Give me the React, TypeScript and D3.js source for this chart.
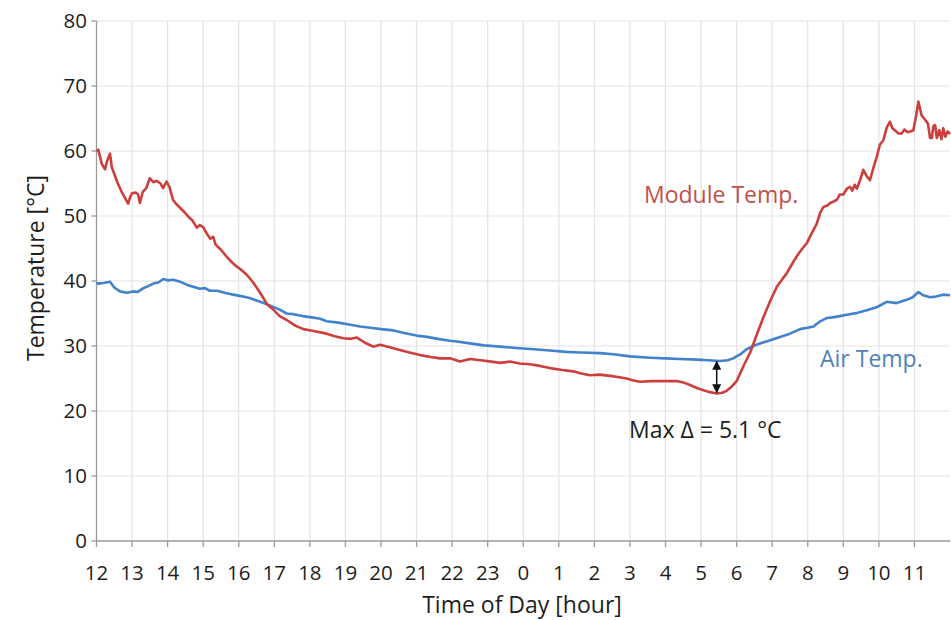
import React from "react";
import * as d3 from "d3";

// hours elapsed since 12:00 (0..24)
const hourLabels = ["12","13","14","15","16","17","18","19","20","21","22","23","0","1","2","3","4","5","6","7","8","9","10","11"];
const yTicks = [0, 10, 20, 30, 40, 50, 60, 70, 80];

const moduleT = [0.0,0.05,0.15,0.24,0.3,0.38,0.43,0.52,0.6,0.7,0.8,0.89,0.95,1.0,1.1,1.17,1.22,1.3,1.4,1.5,1.6,1.69,1.8,1.87,1.97,2.05,2.15,2.25,2.4,2.49,2.6,2.7,2.82,2.9,3.0,3.1,3.2,3.28,3.35,3.5,3.65,3.75,3.9,4.05,4.22,4.4,4.6,4.8,4.97,5.15,5.35,5.6,5.82,6.1,6.47,6.7,6.94,7.15,7.32,7.55,7.78,7.97,8.25,8.53,8.8,9.1,9.4,9.66,9.94,10.22,10.5,10.8,11.1,11.35,11.63,11.9,12.19,12.5,12.75,13.1,13.41,13.6,13.88,14.15,14.44,14.7,14.91,15.1,15.28,15.6,15.9,16.32,16.5,16.69,16.9,17.07,17.25,17.44,17.6,17.72,17.85,18.0,18.2,18.38,18.55,18.75,18.95,19.13,19.3,19.41,19.6,19.74,19.85,19.97,20.1,20.25,20.35,20.44,20.55,20.63,20.72,20.82,20.9,21.0,21.1,21.19,21.25,21.32,21.38,21.47,21.56,21.65,21.75,21.85,21.94,22.03,22.13,22.22,22.31,22.38,22.45,22.55,22.64,22.72,22.8,22.88,22.97,23.05,23.11,23.2,23.3,23.38,23.44,23.49,23.53,23.58,23.63,23.7,23.76,23.81,23.87,23.93,24.0];
const moduleV = [60.0,60.2,58.0,57.2,58.5,59.6,57.5,56.2,55.0,53.8,52.8,51.9,53.0,53.5,53.6,53.3,52.0,53.7,54.3,55.8,55.2,55.4,55.0,54.3,55.3,54.5,52.5,51.8,51.0,50.5,49.8,49.3,48.2,48.6,48.3,47.3,46.5,46.8,45.6,44.8,43.8,43.2,42.4,41.8,41.0,39.8,38.2,36.4,35.6,34.6,34.0,33.1,32.6,32.3,31.9,31.5,31.2,31.1,31.3,30.5,29.9,30.2,29.8,29.4,29.0,28.6,28.3,28.1,28.1,27.6,28.0,27.8,27.6,27.4,27.6,27.3,27.2,26.9,26.6,26.3,26.1,25.8,25.5,25.6,25.4,25.2,25.0,24.7,24.5,24.6,24.6,24.6,24.4,24.0,23.5,23.2,22.9,22.7,22.8,23.1,23.7,24.6,27.0,29.0,31.5,34.4,37.0,39.1,40.4,41.2,43.0,44.2,45.0,45.8,47.2,48.8,50.5,51.4,51.6,52.0,52.2,52.5,53.3,53.3,54.2,54.5,53.9,54.8,54.2,55.5,57.1,56.2,55.5,57.5,59.1,61.0,61.7,63.6,64.5,63.5,63.2,62.7,62.7,63.3,62.9,63.0,63.2,65.5,67.6,65.5,64.8,64.2,62.0,62.0,63.8,64.0,62.0,63.2,61.8,63.5,62.2,63.0,62.6];

const airT = [0.0,0.05,0.2,0.38,0.5,0.66,0.85,1.03,1.15,1.32,1.45,1.6,1.75,1.88,2.0,2.16,2.35,2.55,2.72,2.9,3.05,3.19,3.4,3.6,3.85,4.13,4.35,4.6,4.8,4.97,5.15,5.35,5.53,5.8,6.05,6.29,6.47,6.8,7.1,7.41,7.7,8.0,8.35,8.65,9.0,9.29,9.6,9.94,10.13,10.5,10.9,11.35,11.8,12.3,12.75,13.2,13.6,14.16,14.6,15.0,15.57,16.0,16.4,16.9,17.2,17.53,17.75,17.9,18.1,18.28,18.47,18.66,18.9,19.22,19.5,19.78,20.0,20.16,20.35,20.53,20.7,20.9,21.1,21.4,21.66,21.95,22.22,22.5,22.78,22.95,23.11,23.25,23.44,23.6,23.81,24.0];
const airV = [39.7,39.6,39.7,39.9,39.0,38.4,38.2,38.4,38.3,38.9,39.2,39.6,39.8,40.3,40.1,40.2,39.9,39.4,39.1,38.8,38.9,38.5,38.5,38.2,37.9,37.6,37.3,36.8,36.4,36.0,35.6,35.0,34.9,34.6,34.4,34.2,33.8,33.6,33.3,33.0,32.8,32.6,32.4,32.0,31.6,31.4,31.1,30.8,30.7,30.4,30.1,29.9,29.7,29.5,29.3,29.1,29.0,28.9,28.7,28.4,28.2,28.1,28.0,27.9,27.8,27.7,27.8,28.1,28.7,29.5,30.0,30.4,30.8,31.4,31.9,32.6,32.8,33.0,33.8,34.3,34.4,34.6,34.8,35.1,35.5,36.0,36.8,36.6,37.1,37.5,38.3,37.8,37.5,37.6,37.9,37.8];

// max delta annotation (hour, air value, module value)
const deltaAt = [17.44, 27.75, 22.7];

const RED = "#cc3f3c";
const BLUE = "#4282cc";
const FONT = "'Open Sans', 'DejaVu Sans', sans-serif";

export default function App() {
  const W = 951, H = 620;
  const x = d3.scaleLinear().domain([0, 24]).range([96.5, 950]);
  const y = d3.scaleLinear().domain([0, 80]).range([541, 21]);
  const line = d3.line<[number, number]>().x(d => x(d[0])).y(d => y(d[1]));
  const modPts = moduleT.map((t, i) => [t, moduleV[i]] as [number, number]);
  const airPts = airT.map((t, i) => [t, airV[i]] as [number, number]);
  const hours = d3.range(0, 24);
  const [dx, dTop, dBot] = deltaAt;

  return (
    <svg width={W} height={H} style={{ position: "absolute", left: 0, top: 0, background: "#fff" }} fontFamily={FONT}>
      <defs>
        <marker id="ah" viewBox="0 0 10 10" refX="9" refY="5" markerWidth="6" markerHeight="6" orient="auto-start-reverse">
          <path d="M0,0 L10,5 L0,10 z" fill="#111" />
        </marker>
      </defs>
      {/* grid */}
      {hours.slice(1).map(h => (
        <line key={"gx" + h} x1={x(h)} x2={x(h)} y1={y(80)} y2={y(0)} stroke="#e3e3e3" strokeWidth={1.2} />
      ))}
      {yTicks.slice(1).map(v => (
        <line key={"gy" + v} x1={x(0)} x2={x(24)} y1={y(v)} y2={y(v)} stroke="#e3e3e3" strokeWidth={1.2} />
      ))}
      {/* axes */}
      <line x1={x(0)} x2={x(0)} y1={y(80)} y2={y(0)} stroke="#9a9a9a" strokeWidth={1.3} />
      <line x1={x(0)} x2={x(24)} y1={y(0)} y2={y(0)} stroke="#9a9a9a" strokeWidth={1.3} />
      {yTicks.map(v => (
        <g key={"yt" + v}>
          <line x1={x(0) - 5} x2={x(0)} y1={y(v)} y2={y(v)} stroke="#9a9a9a" strokeWidth={1.3} />
          <text x={87} y={y(v)} dy="0.36em" textAnchor="end" fontSize={20.5} fill="#1e1e1e">{v}</text>
        </g>
      ))}
      {hours.map(h => (
        <g key={"xt" + h}>
          <line x1={x(h)} x2={x(h)} y1={y(0)} y2={y(0) + 6} stroke="#9a9a9a" strokeWidth={1.3} />
          <text x={x(h)} y={580} textAnchor="middle" fontSize={20.5} fill="#1e1e1e">{hourLabels[h]}</text>
        </g>
      ))}
      {/* titles */}
      <text x={522} y={613} textAnchor="middle" fontSize={23} fill="#1e1e1e">Time of Day [hour]</text>
      <text transform="translate(44,268) rotate(-90)" textAnchor="middle" fontSize={23} fill="#1e1e1e">Temperature [°C]</text>
      {/* series */}
      <path d={line(airPts) || ""} fill="none" stroke={BLUE} strokeWidth={2.6} strokeLinejoin="round" />
      <path d={line(modPts) || ""} fill="none" stroke={RED} strokeWidth={2.6} strokeLinejoin="round" />
      {/* labels */}
      <text x={644} y={203} fontSize={23} fill="#c0504d">Module Temp.</text>
      <text x={820} y={367} fontSize={23} fill="#4f81bd">Air Temp.</text>
      <text x={629} y={438} fontSize={23} fill="#1e1e1e">Max Δ = 5.1 °C</text>
      <line x1={x(dx)} x2={x(dx)} y1={y(dTop) + 1} y2={y(dBot) - 1} stroke="#111" strokeWidth={1.5}
        markerStart="url(#ah)" markerEnd="url(#ah)" />
    </svg>
  );
}
